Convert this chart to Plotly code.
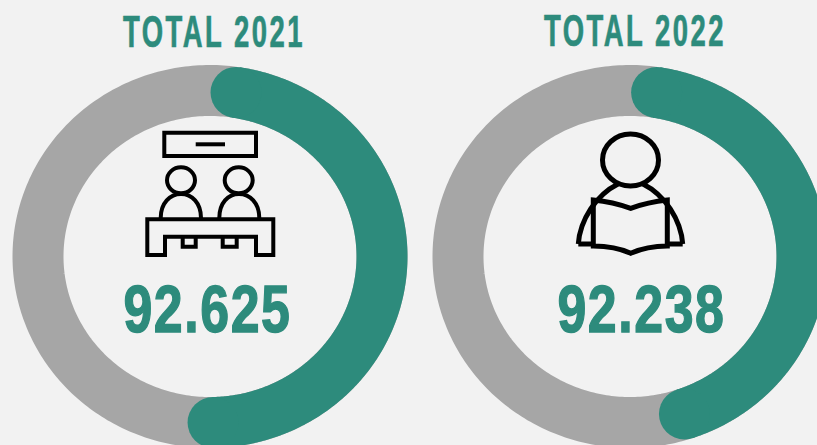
import json
import numpy as np
import plotly.graph_objects as go

titles = ["TOTAL 2021", "TOTAL 2022"]
totals = ["92.625", "92.238"]
green_share = [47.3, 42.4]   # percent of the ring in green
start_deg = [8.7, 8.9]       # clockwise from 12 o'clock
centers_x = [210, 630]
center_y = 256.5
RX, RY, BAND = 172, 166, 51
GREEN, GRAY, BG, INK = "#2d8b7c", "#a6a6a6", "#f2f2f2", "#000000"
FONT = "Liberation Sans"

title_x = [214, 634.5]
title_y = [31.5, 30]
total_x = [207.5, 641]
total_y = [308, 308]
TITLE_W, TOTAL_W = 182, 168


def ring_xy(cx, a0, a1, n=360):
    t = np.radians(np.linspace(a0, a1, n))
    return cx + RX * np.sin(t), center_y - RY * np.cos(t)


fig = go.Figure()
for cx, share, a0 in zip(centers_x, green_share, start_deg):
    gx, gy = ring_xy(cx, 0, 365)
    fig.add_trace(go.Scatter(x=gx, y=gy, mode="lines", line=dict(color=GRAY, width=BAND, simplify=False),
                             hoverinfo="skip", showlegend=False))
    ax, ay = ring_xy(cx, a0, a0 + share * 3.6)
    sizes = np.zeros(len(ax))
    sizes[[0, -1]] = BAND
    fig.add_trace(go.Scatter(x=ax, y=ay, mode="lines+markers", line=dict(color=GREEN, width=BAND, simplify=False),
                             marker=dict(color=GREEN, size=sizes, opacity=1, line=dict(width=0)),
                             hoverinfo="skip", showlegend=False))

shapes = []


def stroke(path, w):
    shapes.append(dict(type="path", xref="x", yref="y", path=path,
                       line=dict(color=INK, width=w), fillcolor="rgba(0,0,0,0)"))


def ellipse(cx, cy, rx, ry, w):
    shapes.append(dict(type="circle", xref="x", yref="y", x0=cx - rx, x1=cx + rx, y0=cy - ry, y1=cy + ry,
                       line=dict(color=INK, width=w), fillcolor="rgba(0,0,0,0)"))


# classroom icon
w1 = 4
stroke("M164.3,132.7 L256,132.7 L256,156 L164.3,156 Z", w1)
stroke("M195.7,144.3 L225,144.3", w1)
ellipse(181, 180.3, 14, 13, w1)
ellipse(238.7, 180.3, 14, 13, w1)
stroke("M160.7,218 C160.7,203 170,194 181,194 C192,194 201,203 201,218", w1)
stroke("M219.3,218 C219.3,203 228,194 239,194 C250,194 259.3,203 259.3,218", w1)
stroke("M147.3,219.3 L273.3,219.3 L273.3,255 L256,255 L256,236.7 L165,236.7 L165,255 L147.3,255 Z", w1)
stroke("M182.7,236.7 L182.7,246.7 L195.7,246.7 L195.7,236.7", w1)
stroke("M222.7,236.7 L222.7,246.7 L236.7,246.7 L236.7,236.7", w1)

# reader icon
w2 = 5
ellipse(630.5, 160, 28, 26, w2)
stroke("M578.3,244 C580,220 596,195 618,184", w2)
stroke("M682.7,244 C681,220 665,195 643,184", w2)
stroke("M593.3,200 Q613,202 630.7,208.3 Q648,202 667.3,200 L667.3,246 Q647,246 630.7,253.3 Q615,246 593.3,246 Z", w2)
stroke("M578.3,244 L593.3,244", w2)
stroke("M667.3,244 L682.7,244", w2)

ann = []
for t, x, y in zip(titles, title_x, title_y):
    ann.append(dict(text=t, x=x, y=y, xref="x", yref="y", showarrow=False,
                    xanchor="center", yanchor="middle", font=dict(family=FONT, size=44, color=GREEN, weight=700)))
for t, x, y in zip(totals, total_x, total_y):
    ann.append(dict(text=t, x=x, y=y, xref="x", yref="y", showarrow=False,
                    xanchor="center", yanchor="middle", font=dict(family=FONT, size=67, color=GREEN, weight=700)))

fig.update_layout(
    width=817, height=445, margin=dict(l=0, r=0, t=0, b=0),
    paper_bgcolor=BG, plot_bgcolor=BG, shapes=shapes, annotations=ann, showlegend=False,
    xaxis=dict(range=[0, 817], visible=False, fixedrange=True),
    yaxis=dict(range=[445, 0], visible=False, fixedrange=True),
)
widths = json.dumps({**{t: [TITLE_W, 4, 0.7] for t in titles}, **{t: [TOTAL_W, 2, 1.4] for t in totals}})
post = (
    "document.body.style.margin='0';document.body.style.overflow='hidden';"
    f"var W={widths};"
    "document.querySelectorAll('.annotation-text').forEach(function(e){"
    "var w=W[e.textContent];if(w){e.style.letterSpacing=w[1]+'px';e.setAttribute('textLength',w[0]);"
    "e.setAttribute('lengthAdjust','spacingAndGlyphs');"
    f"e.style.stroke='{GREEN}';e.style.strokeWidth=w[2]+'px';}}}});"
)
fig.write_html("out.html", config=dict(displayModeBar=False), post_script=post)
